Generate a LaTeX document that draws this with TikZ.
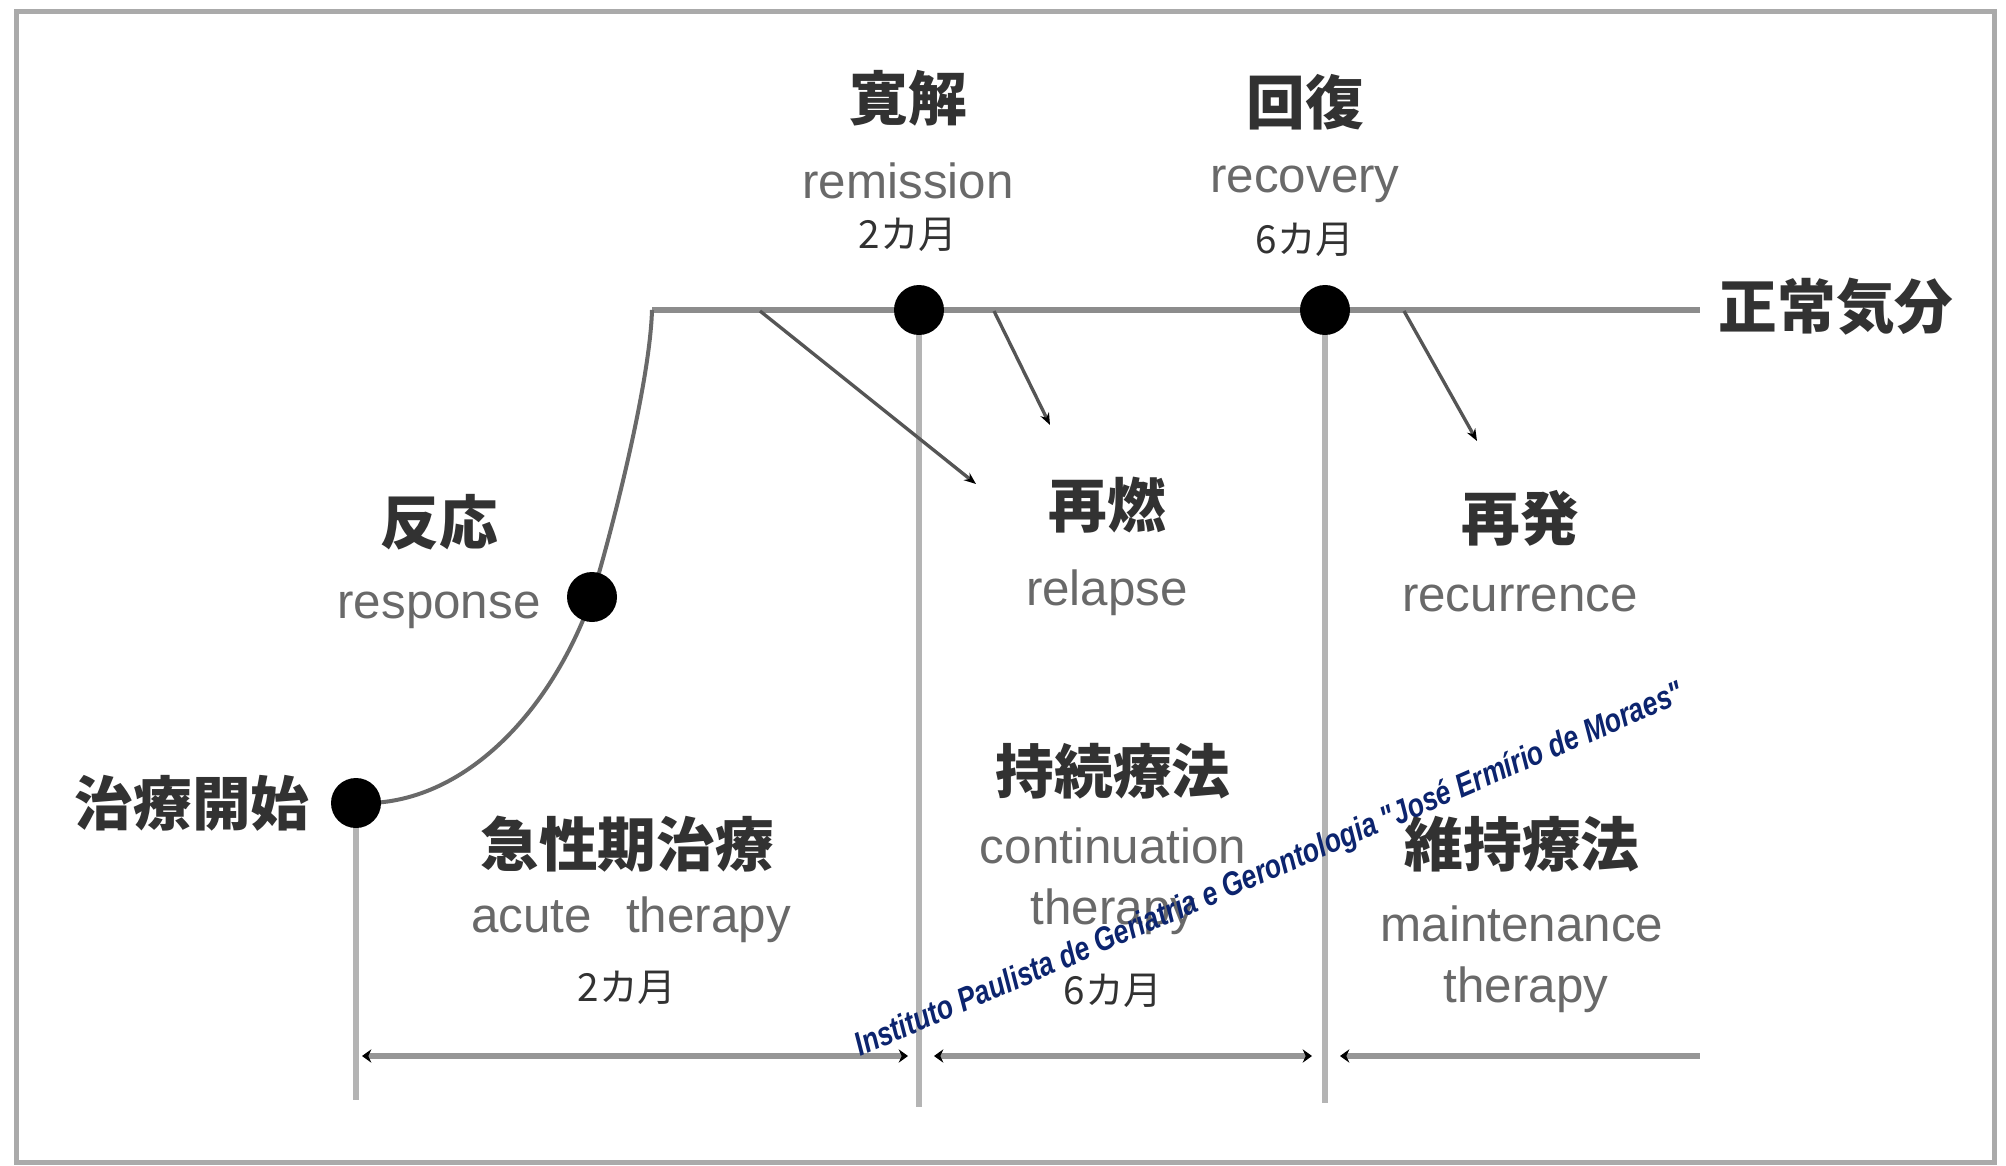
\documentclass[tikz,border=0pt]{standalone}
\usepackage{fontspec}
\setmainfont{Liberation Sans}
\newfontfamily\cjk{Noto Sans CJK JP}
\newfontfamily\wmfont[Ligatures=TeXOff]{Liberation Sans}
\usetikzlibrary{arrows.meta}
\definecolor{wm}{RGB}{12,36,110}
\definecolor{jpcol}{RGB}{50,50,50}
\definecolor{encol}{RGB}{105,105,105}
\definecolor{moodcol}{RGB}{140,140,140}
\definecolor{vcol}{RGB}{180,180,180}
\definecolor{curvecol}{RGB}{105,105,105}
\definecolor{diagcol}{RGB}{85,85,85}
\definecolor{spancol}{RGB}{150,150,150}
\definecolor{framecol}{RGB}{170,170,170}
\begin{document}
\begin{tikzpicture}[x=0.75pt,y=-0.75pt,
  dot/.style={circle, fill=black, inner sep=0pt, minimum size=37.5pt},
  jp/.style={inner sep=0pt, text=jpcol, font=\cjk\bfseries\fontsize{44pt}{48pt}\selectfont},
  jps/.style={inner sep=0pt, text=jpcol, font=\cjk\fontsize{29pt}{32pt}\selectfont},
  en/.style={inner sep=0pt, text=encol, font=\fontsize{37pt}{42pt}\selectfont},
  moodline/.style={line width=5pt, draw=moodcol},
  vline/.style={line width=4pt, draw=vcol},
  curveline/.style={line width=3pt, draw=curvecol},
  diag/.style={line width=2.5pt, draw=diagcol, -{Stealth[length=9pt,width=7pt,color=black]}},
  spanline/.style={line width=4.5pt, draw=spancol},
  spanarrow/.style={{Stealth[length=7pt,width=10pt,color=black]}-{Stealth[length=7pt,width=10pt,color=black]}},
  spanleft/.style={{Stealth[length=7pt,width=10pt,color=black]}-},
  frameline/.style={line width=3.75pt, draw=framecol}
]
\useasboundingbox (0,0) rectangle (2006,1166);
\fill[white] (0,0) rectangle (2006,1166);
\draw[frameline] (16,12) rectangle (1994,1162);

% key points
\coordinate (corner) at (652,310);
\coordinate (moodend) at (1700,310);
\coordinate (pS) at (356,803);
\coordinate (pR) at (592,597);
\coordinate (pRem) at (919,310);
\coordinate (pRec) at (1325,310);
\coordinate (bS) at (356,1100);
\coordinate (bRem) at (919,1107);
\coordinate (bRec) at (1325,1103);

% vertical lines
\draw[vline] (pS) -- (bS);
\draw[vline] (pRem) -- (bRem);
\draw[vline] (pRec) -- (bRec);

% normal mood line
\draw[moodline] (corner) -- (moodend);

% course curve
\draw[curveline] (pS) .. controls (460,808) and (550,715) .. (pR)
                 .. controls (615,520) and (650,380) .. (corner);

% diagonal arrows
\coordinate (d1s) at (760,311);  \coordinate (d1e) at (976,484);
\coordinate (d2s) at (994,311);  \coordinate (d2e) at (1050,425);
\coordinate (d3s) at (1404,311); \coordinate (d3e) at (1477,441);
\draw[diag] (d1s) -- (d1e);
\draw[diag] (d2s) -- (d2e);
\draw[diag] (d3s) -- (d3e);

% span arrows
\coordinate (a1l) at (362,1056); \coordinate (a1r) at (908,1056);
\coordinate (a2l) at (934,1056); \coordinate (a2r) at (1312,1056);
\coordinate (a3l) at (1340,1056); \coordinate (a3r) at (1700,1056);
\draw[spanline, spanarrow] (a1l) -- (a1r);
\draw[spanline, spanarrow] (a2l) -- (a2r);
\draw[spanline, spanleft] (a3l) -- (a3r);

% dots
\node[dot] (start) at (pS) {};
\node[dot] (resp) at (pR) {};
\node[dot] (remi) at (pRem) {};
\node[dot] (reco) at (pRec) {};

% labels
\node[jp] (tRem) at (908,98) {寛解};
\node[en] (eRem) at (908,181) {remission};
\node[jps] (mRem) at (908,235) {2カ月};
\node[jp] (tRec) at (1305,102) {回復};
\node[en] (eRec) at (1305,184) {recovery};
\node[jps] (mRec) at (1305,240) {6カ月};
\node[jp] (tMood) at (1836,307) {正常気分};
\node[jp] (tResp) at (439,522) {反応};
\node[en] (eResp) at (439,610) {response};
\node[jp] (tStart) at (192,803) {治療開始};
\node[jp] (tAcute) at (627,844) {急性期治療};
\node[en] (eAcute) at (631,920) {acute\hspace{0.7em}therapy};
\node[jps] (mAcute) at (627,988) {2カ月};
\node[jp] (tRel) at (1107,505) {再燃};
\node[en] (eRel) at (1107,593) {relapse};
\node[jp] (tRecur) at (1520,518) {再発};
\node[en] (eRecur) at (1520,598) {recurrence};
\node[jp] (tCont) at (1113,771) {持続療法};
\node[en] (eCont) at (1113,846) {continuation};
\node[en] (eCont2) at (1113,912) {therapy};
\node[jps] (mCont) at (1113,991) {6カ月};
\node[jp] (tMain) at (1522,844) {維持療法};
\node[en] (eMain) at (1522,924) {maintenance};
\node[en] (eMain2) at (1526,990) {therapy};

% watermark
\node[rotate=23.3, anchor=base west, inner sep=0pt, text=wm,
      font=\wmfont\fontsize{25pt}{28pt}\selectfont\bfseries\itshape] (wmk) at (860,1057)
  {\scalebox{0.8}[1]{Instituto Paulista de Geriatria e Gerontologia "José Ermírio de Moraes"}};
\end{tikzpicture}
\end{document}
